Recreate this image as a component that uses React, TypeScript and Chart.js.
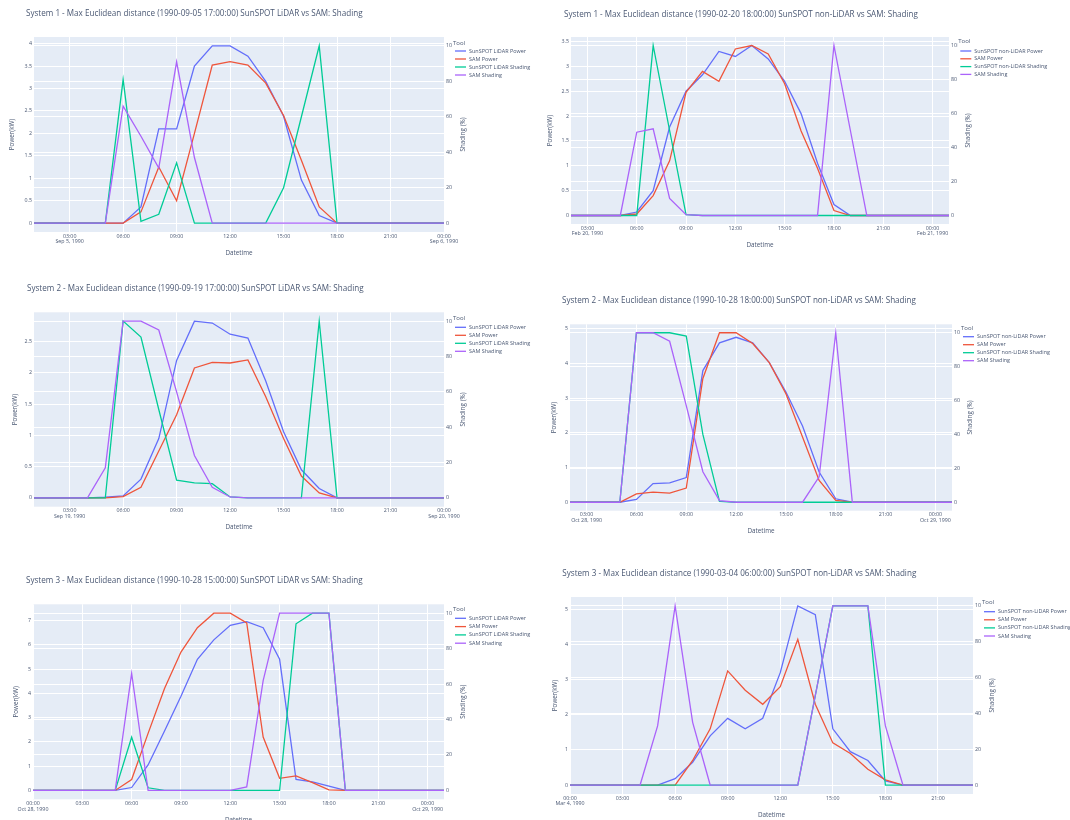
import React, { useEffect, useRef } from 'react';
import { Chart, registerables } from 'chart.js';

Chart.register(...registerables);

const FONT = '"Open Sans", "DejaVu Sans", sans-serif';
const TEXT = '#4a5873';
const BG = '#E5ECF6';
const COLORS = ['#636efa', '#EF553B', '#00cc96', '#ab63fa'];

const LIDAR_LABELS = ['SunSPOT LiDAR Power', 'SAM Power', 'SunSPOT LiDAR Shading', 'SAM Shading'];
const NONLIDAR_LABELS = ['SunSPOT non-LiDAR Power', 'SAM Power', 'SunSPOT non-LiDAR Shading', 'SAM Shading'];
const shadeTicks = [0, 20, 40, 60, 80, 100];
const xTicksA = [3, 6, 9, 12, 15, 18, 21, 24];
const xTicksB = [0, 3, 6, 9, 12, 15, 18, 21, 24];
const xTicksC = [0, 3, 6, 9, 12, 15, 18, 21];

// ---------- Panel 1: System 1 LiDAR ----------
const p1Title = 'System 1 - Max Euclidean distance (1990-09-05 17:00:00) SunSPOT LiDAR vs SAM: Shading';
const p1Hours = [1, 2, 3, 4, 5, 6, 7, 8, 9, 10, 11, 12, 13, 14, 15, 16, 17, 18, 19, 20, 21, 22, 23, 24];
const p1SunPower = [0, 0, 0, 0, 0, 0, 0.36, 2.1, 2.1, 3.5, 3.95, 3.95, 3.72, 3.16, 2.38, 0.96, 0.17, 0, 0, 0, 0, 0, 0, 0];
const p1SamPower = [0, 0, 0, 0, 0, 0, 0.25, 1.25, 0.5, 2.0, 3.52, 3.6, 3.52, 3.12, 2.4, 1.4, 0.36, 0, 0, 0, 0, 0, 0, 0];
const p1SunShade = [0, 0, 0, 0, 0, 81, 1, 5, 34, 0, 0, 0, 0, 0, 20, 60, 100, 0, 0, 0, 0, 0, 0, 0];
const p1SamShade = [0, 0, 0, 0, 0, 66, 49, 31, 91, 37, 0, 0, 0, 0, 0, 0, 0, 0, 0, 0, 0, 0, 0, 0];
const p1PowerTicks = [0, 0.5, 1, 1.5, 2, 2.5, 3, 3.5, 4];
const p1XLabels = [['03:00', 'Sep 5, 1990'], '06:00', '09:00', '12:00', '15:00', '18:00', '21:00', ['00:00', 'Sep 6, 1990']];

// ---------- Panel 2: System 1 non-LiDAR ----------
const p2Title = 'System 1 - Max Euclidean distance (1990-02-20 18:00:00) SunSPOT non-LiDAR vs SAM: Shading';
const p2Hours = [2, 3, 4, 5, 6, 7, 8, 9, 10, 11, 12, 13, 14, 15, 16, 17, 18, 19, 20, 21, 22, 23, 24, 25];
const p2SunPower = [0, 0, 0, 0, 0.07, 0.5, 1.78, 2.5, 2.83, 3.3, 3.2, 3.42, 3.15, 2.7, 2.05, 1.05, 0.22, 0, 0, 0, 0, 0, 0, 0];
const p2SamPower = [0, 0, 0, 0, 0.03, 0.4, 1.1, 2.48, 2.9, 2.7, 3.35, 3.42, 3.25, 2.65, 1.7, 0.95, 0.1, 0, 0, 0, 0, 0, 0, 0];
const p2SunShade = [0, 0, 0, 0, 0, 100, 50, 0.5, 0, 0, 0, 0, 0, 0, 0, 0, 0, 0, 0, 0, 0, 0, 0, 0];
const p2SamShade = [0, 0, 0, 0, 49, 51, 10, 0.5, 0, 0, 0, 0, 0, 0, 0, 0, 100, 50, 0, 0, 0, 0, 0, 0];
const p2PowerTicks = [0, 0.5, 1, 1.5, 2, 2.5, 3, 3.5];
const p2XLabels = [['03:00', 'Feb 20, 1990'], '06:00', '09:00', '12:00', '15:00', '18:00', '21:00', ['00:00', 'Feb 21, 1990']];

// ---------- Panel 3: System 2 LiDAR ----------
const p3Title = 'System 2 - Max Euclidean distance (1990-09-19 17:00:00) SunSPOT LiDAR vs SAM: Shading';
const p3Hours = [1, 2, 3, 4, 5, 6, 7, 8, 9, 10, 11, 12, 13, 14, 15, 16, 17, 18, 19, 20, 21, 22, 23, 24];
const p3SunPower = [0, 0, 0, 0, 0.01, 0.03, 0.3, 0.95, 2.2, 2.83, 2.8, 2.62, 2.56, 1.87, 1.06, 0.45, 0.15, 0, 0, 0, 0, 0, 0, 0];
const p3SamPower = [0, 0, 0, 0, 0, 0.02, 0.17, 0.75, 1.33, 2.08, 2.17, 2.16, 2.21, 1.62, 0.95, 0.35, 0.08, 0, 0, 0, 0, 0, 0, 0];
const p3SunShade = [0, 0, 0, 0, 0, 100, 91, 50, 10, 8.5, 8, 0.5, 0, 0, 0, 0, 100, 0, 0, 0, 0, 0, 0, 0];
const p3SamShade = [0, 0, 0, 0, 17, 100, 100, 95, 60, 24, 6, 0.5, 0, 0, 0, 0, 0, 0, 0, 0, 0, 0, 0, 0];
const p3PowerTicks = [0, 0.5, 1, 1.5, 2, 2.5];
const p3XLabels = [['03:00', 'Sep 19, 1990'], '06:00', '09:00', '12:00', '15:00', '18:00', '21:00', ['00:00', 'Sep 20, 1990']];

// ---------- Panel 4: System 2 non-LiDAR ----------
const p4Title = 'System 2 - Max Euclidean distance (1990-10-28 18:00:00) SunSPOT non-LiDAR vs SAM: Shading';
const p4Hours = [2, 3, 4, 5, 6, 7, 8, 9, 10, 11, 12, 13, 14, 15, 16, 17, 18, 19, 20, 21, 22, 23, 24, 25];
const p4SunPower = [0, 0, 0, 0, 0.08, 0.54, 0.56, 0.71, 3.8, 4.6, 4.76, 4.6, 4.03, 3.18, 2.2, 0.87, 0.1, 0, 0, 0, 0, 0, 0, 0];
const p4SamPower = [0, 0, 0, 0, 0.24, 0.29, 0.26, 0.41, 3.57, 4.89, 4.89, 4.58, 4.03, 3.13, 1.88, 0.63, 0.05, 0, 0, 0, 0, 0, 0, 0];
const p4SunShade = [0, 0, 0, 0, 100, 100, 100, 98, 40, 0.5, 0, 0, 0, 0, 0, 0, 0, 0, 0, 0, 0, 0, 0, 0];
const p4SamShade = [0, 0, 0, 0, 100, 100, 95, 57, 18, 1, 0, 0, 0, 0, 0, 15, 100, 0, 0, 0, 0, 0, 0, 0];
const p4PowerTicks = [0, 1, 2, 3, 4, 5];
const p4XLabels = [['03:00', 'Oct 28, 1990'], '06:00', '09:00', '12:00', '15:00', '18:00', '21:00', ['00:00', 'Oct 29, 1990']];

// ---------- Panel 5: System 3 LiDAR ----------
const p5Title = 'System 3 - Max Euclidean distance (1990-10-28 15:00:00) SunSPOT LiDAR vs SAM: Shading';
const p5Hours = [0, 1, 2, 3, 4, 5, 6, 7, 8, 9, 10, 11, 12, 13, 14, 15, 16, 17, 18, 19, 20, 21, 22, 23, 24, 25];
const p5SunPower = [0, 0, 0, 0, 0, 0, 0.12, 1.05, 2.45, 3.88, 5.4, 6.2, 6.8, 6.95, 6.7, 5.4, 0.45, 0.35, 0.18, 0, 0, 0, 0, 0, 0, 0];
const p5SamPower = [0, 0, 0, 0, 0, 0, 0.45, 2.35, 4.2, 5.7, 6.7, 7.3, 7.3, 6.9, 2.2, 0.5, 0.6, 0.32, 0.02, 0, 0, 0, 0, 0, 0, 0];
const p5SunShade = [0, 0, 0, 0, 0, 0, 30, 1.5, 0, 0, 0, 0, 0, 0, 0, 0, 94, 100, 100, 0, 0, 0, 0, 0, 0, 0];
const p5SamShade = [0, 0, 0, 0, 0, 0, 66, 0, 0, 0, 0, 0, 0, 2, 62, 100, 100, 100, 100, 0, 0, 0, 0, 0, 0, 0];
const p5PowerTicks = [0, 1, 2, 3, 4, 5, 6, 7];
const p5XLabels = [['00:00', 'Oct 28, 1990'], '03:00', '06:00', '09:00', '12:00', '15:00', '18:00', '21:00', ['00:00', 'Oct 29, 1990']];

// ---------- Panel 6: System 3 non-LiDAR ----------
const p6Title = 'System 3 - Max Euclidean distance (1990-03-04 06:00:00) SunSPOT non-LiDAR vs SAM: Shading';
const p6Hours = [0, 1, 2, 3, 4, 5, 6, 7, 8, 9, 10, 11, 12, 13, 14, 15, 16, 17, 18, 19, 20, 21, 22, 23];
const p6SunPower = [0, 0, 0, 0, 0, 0, 0.18, 0.65, 1.4, 1.9, 1.6, 1.9, 3.2, 5.1, 4.85, 1.6, 0.95, 0.7, 0.12, 0, 0, 0, 0, 0];
const p6SamPower = [0, 0, 0, 0, 0, 0, 0, 0.7, 1.6, 3.25, 2.7, 2.3, 2.8, 4.15, 2.3, 1.2, 0.9, 0.45, 0.15, 0, 0, 0, 0, 0];
const p6SunShade = [0, 0, 0, 0, 0, 0, 0, 0, 0, 0, 0, 0, 0, 0, 50, 100, 100, 100, 0, 0, 0, 0, 0, 0];
const p6SamShade = [0, 0, 0, 0, 0, 33, 100, 35, 0, 0, 0, 0, 0, 0, 50, 100, 100, 100, 33, 0, 0, 0, 0, 0];
const p6PowerTicks = [0, 1, 2, 3, 4, 5];
const p6XLabels = [['00:00', 'Mar 4, 1990'], '03:00', '06:00', '09:00', '12:00', '15:00', '18:00', '21:00'];

type PanelData = {
  title: string;
  labels: string[];
  hours: number[];
  series: number[][];
  powerTicks: number[];
  xTicks: number[];
  xLabels: (string | string[])[];
};

type Lay = {
  left: number; top: number; w: number; h: number;
  L: number; T: number; R: number; B: number;
  titleX: number; titleY: number; yTitleX: number; y2TitleX: number;
  legX: number; legY: number; row0: number; rowStep: number;
};

const PANELS: { d: PanelData; lay: Lay }[] = [
  {
    d: { title: p1Title, labels: LIDAR_LABELS, hours: p1Hours, series: [p1SunPower, p1SamPower, p1SunShade, p1SamShade], powerTicks: p1PowerTicks, xTicks: xTicksA, xLabels: p1XLabels },
    lay: { left: 0, top: 0, w: 535, h: 275, L: 34, T: 37, R: 444, B: 232, titleX: 26, titleY: 14, yTitleX: 12, y2TitleX: 463, legX: 453, legY: 43.5, row0: 51, rowStep: 8 },
  },
  {
    d: { title: p2Title, labels: NONLIDAR_LABELS, hours: p2Hours, series: [p2SunPower, p2SamPower, p2SunShade, p2SamShade], powerTicks: p2PowerTicks, xTicks: xTicksA, xLabels: p2XLabels },
    lay: { left: 535, top: 0, w: 535, h: 275, L: 36, T: 37, R: 414, B: 224, titleX: 29, titleY: 15, yTitleX: 15, y2TitleX: 433, legX: 423.3, legY: 41.5, row0: 51, rowStep: 7.8 },
  },
  {
    d: { title: p3Title, labels: LIDAR_LABELS, hours: p3Hours, series: [p3SunPower, p3SamPower, p3SunShade, p3SamShade], powerTicks: p3PowerTicks, xTicks: xTicksA, xLabels: p3XLabels },
    lay: { left: 0, top: 275, w: 535, h: 285, L: 34, T: 37.3, R: 444, B: 231.7, titleX: 27, titleY: 14, yTitleX: 15.5, y2TitleX: 463, legX: 453, legY: 43.3, row0: 52.3, rowStep: 8 },
  },
  {
    d: { title: p4Title, labels: NONLIDAR_LABELS, hours: p4Hours, series: [p4SunPower, p4SamPower, p4SunShade, p4SamShade], powerTicks: p4PowerTicks, xTicks: xTicksA, xLabels: p4XLabels },
    lay: { left: 535, top: 275, w: 535, h: 285, L: 35, T: 49.3, R: 417, B: 235.7, titleX: 27, titleY: 26, yTitleX: 19.5, y2TitleX: 435, legX: 426, legY: 53.3, row0: 61.7, rowStep: 8 },
  },
  {
    d: { title: p5Title, labels: LIDAR_LABELS, hours: p5Hours, series: [p5SunPower, p5SamPower, p5SunShade, p5SamShade], powerTicks: p5PowerTicks, xTicks: xTicksB, xLabels: p5XLabels },
    lay: { left: 0, top: 560, w: 535, h: 275, L: 33, T: 44.3, R: 444, B: 239.3, titleX: 26, titleY: 20.7, yTitleX: 16.5, y2TitleX: 463, legX: 453, legY: 49.3, row0: 58.3, rowStep: 8.3 },
  },
  {
    d: { title: p6Title, labels: NONLIDAR_LABELS, hours: p6Hours, series: [p6SunPower, p6SamPower, p6SunShade, p6SamShade], powerTicks: p6PowerTicks, xTicks: xTicksC, xLabels: p6XLabels },
    lay: { left: 535, top: 560, w: 535, h: 275, L: 35, T: 37, R: 438, B: 234, titleX: 27.3, titleY: 14, yTitleX: 20, y2TitleX: 457, legX: 447, legY: 42.7, row0: 51.7, rowStep: 8.1 },
  },
];

const TICK_FONT = { family: FONT, size: 5.3, lineHeight: 1.13 };
const AXIS_TITLE_FONT = { family: FONT, size: 6.3, lineHeight: 1.2 };

function buildChart(canvas: HTMLCanvasElement, d: PanelData, lay: Lay) {
  const maxP = Math.max(...d.series[0], ...d.series[1]);
  const maxS = Math.max(...d.series[2], ...d.series[3]);
  const xMin = d.hours[0];
  const xMax = d.hours[d.hours.length - 1];
  const halfTitle = (AXIS_TITLE_FONT.size * AXIS_TITLE_FONT.lineHeight) / 2;

  const overlay = {
    id: 'overlay',
    beforeDraw(chart: any) {
      const { ctx, chartArea: a } = chart;
      ctx.save();
      ctx.fillStyle = BG;
      ctx.fillRect(a.left, a.top, a.right - a.left, a.bottom - a.top);
      ctx.restore();
    },
    afterDraw(chart: any) {
      const { ctx, chartArea: a } = chart;
      ctx.save();
      ctx.fillStyle = TEXT;
      ctx.textBaseline = 'middle';
      ctx.textAlign = 'left';
      ctx.font = `8.1px ${FONT}`;
      ctx.fillText(d.title, lay.titleX, lay.titleY);

      ctx.save();
      ctx.translate(lay.y2TitleX, (a.top + a.bottom) / 2);
      ctx.rotate(-Math.PI / 2);
      ctx.textAlign = 'center';
      ctx.font = `${AXIS_TITLE_FONT.size}px ${FONT}`;
      ctx.fillText('Shading (%)', 0, 0);
      ctx.restore();

      const lastRow = lay.row0 + lay.rowStep * 3;
      ctx.fillStyle = '#ffffff';
      ctx.fillRect(lay.legX - 1, lay.legY - 5, chart.width, lastRow + 2.5 - (lay.legY - 5));
      ctx.fillStyle = TEXT;
      ctx.font = `6px ${FONT}`;
      ctx.fillText('Tool', lay.legX, lay.legY);
      ctx.font = `5.45px ${FONT}`;
      d.labels.forEach((lab, i) => {
        const y = lay.row0 + i * lay.rowStep;
        ctx.strokeStyle = COLORS[i];
        ctx.lineWidth = 1.3;
        ctx.beginPath();
        ctx.moveTo(lay.legX + 2, y);
        ctx.lineTo(lay.legX + 13, y);
        ctx.stroke();
        ctx.fillStyle = TEXT;
        ctx.fillText(lab, lay.legX + 16, y);
      });
      ctx.restore();
    },
  };

  const yAxes = ['y', 'y', 'y1', 'y1'];
  const orders = [4, 3, 2, 1];

  return new Chart(canvas, {
    type: 'line',
    data: {
      datasets: d.series.map((s, i) => ({
        label: d.labels[i],
        data: d.hours.map((h, j) => ({ x: h, y: s[j] })),
        borderColor: COLORS[i],
        backgroundColor: COLORS[i],
        borderWidth: 1.3,
        pointRadius: 0,
        tension: 0,
        fill: false,
        yAxisID: yAxes[i],
        order: orders[i],
      })),
    },
    options: {
      animation: false,
      responsive: false,
      devicePixelRatio: 1,
      layout: { padding: { top: lay.T, left: 0, right: 0, bottom: 0 } },
      plugins: { legend: { display: false }, title: { display: false }, tooltip: { enabled: false } },
      scales: {
        x: {
          type: 'linear',
          min: xMin,
          max: xMax,
          afterBuildTicks: (s: any) => { s.ticks = d.xTicks.map((v) => ({ value: v })); },
          afterFit: (s: any) => { s.height = lay.h - lay.B; s.paddingLeft = 0; s.paddingRight = 0; },
          ticks: {
            autoSkip: false, maxRotation: 0, minRotation: 0, padding: 1, color: TEXT, font: TICK_FONT,
            callback: (_v: any, i: number) => d.xLabels[i],
          },
          grid: { color: '#ffffff', lineWidth: 1, drawTicks: false },
          border: { display: false },
          title: {
            display: true, text: 'Datetime', color: TEXT, font: AXIS_TITLE_FONT,
            padding: { top: 0, bottom: lay.h - lay.B - 21 - halfTitle },
          },
        },
        y: {
          type: 'linear',
          position: 'left',
          min: -0.05 * maxP,
          max: 1.05 * maxP,
          afterBuildTicks: (s: any) => { s.ticks = d.powerTicks.map((v) => ({ value: v })); },
          afterFit: (s: any) => { s.width = lay.L; s.paddingTop = 0; s.paddingBottom = 0; },
          ticks: { autoSkip: false, padding: 2, color: TEXT, font: TICK_FONT, callback: (v: any) => String(v) },
          grid: { color: '#ffffff', lineWidth: 1, drawTicks: false },
          border: { display: false },
          title: {
            display: true, text: 'Power(kW)', color: TEXT, font: AXIS_TITLE_FONT,
            padding: { top: lay.yTitleX - halfTitle, bottom: 0 },
          },
        },
        y1: {
          type: 'linear',
          position: 'right',
          min: -0.05 * maxS,
          max: 1.05 * maxS,
          afterBuildTicks: (s: any) => { s.ticks = shadeTicks.map((v) => ({ value: v })); },
          afterFit: (s: any) => { s.width = lay.w - lay.R; s.paddingTop = 0; s.paddingBottom = 0; },
          ticks: { autoSkip: false, padding: 2, color: TEXT, font: TICK_FONT, callback: (v: any) => String(v) },
          grid: { color: '#ffffff', lineWidth: 1, drawTicks: false },
          border: { display: false },
        },
      },
    } as any,
    plugins: [overlay],
  });
}

function Panel({ d, lay }: { d: PanelData; lay: Lay }) {
  const ref = useRef<HTMLCanvasElement>(null);
  useEffect(() => {
    if (!ref.current) return;
    const chart = buildChart(ref.current, d, lay);
    return () => chart.destroy();
  }, [d, lay]);
  return (
    <canvas
      ref={ref}
      width={lay.w}
      height={lay.h}
      style={{ position: 'absolute', left: lay.left, top: lay.top, width: lay.w, height: lay.h }}
    />
  );
}

export default function App() {
  return (
    <div style={{ position: 'absolute', left: 0, top: 0, width: 1070, height: 820, overflow: 'hidden', background: '#ffffff' }}>
      {PANELS.map((p, i) => (
        <Panel key={i} d={p.d} lay={p.lay} />
      ))}
    </div>
  );
}
